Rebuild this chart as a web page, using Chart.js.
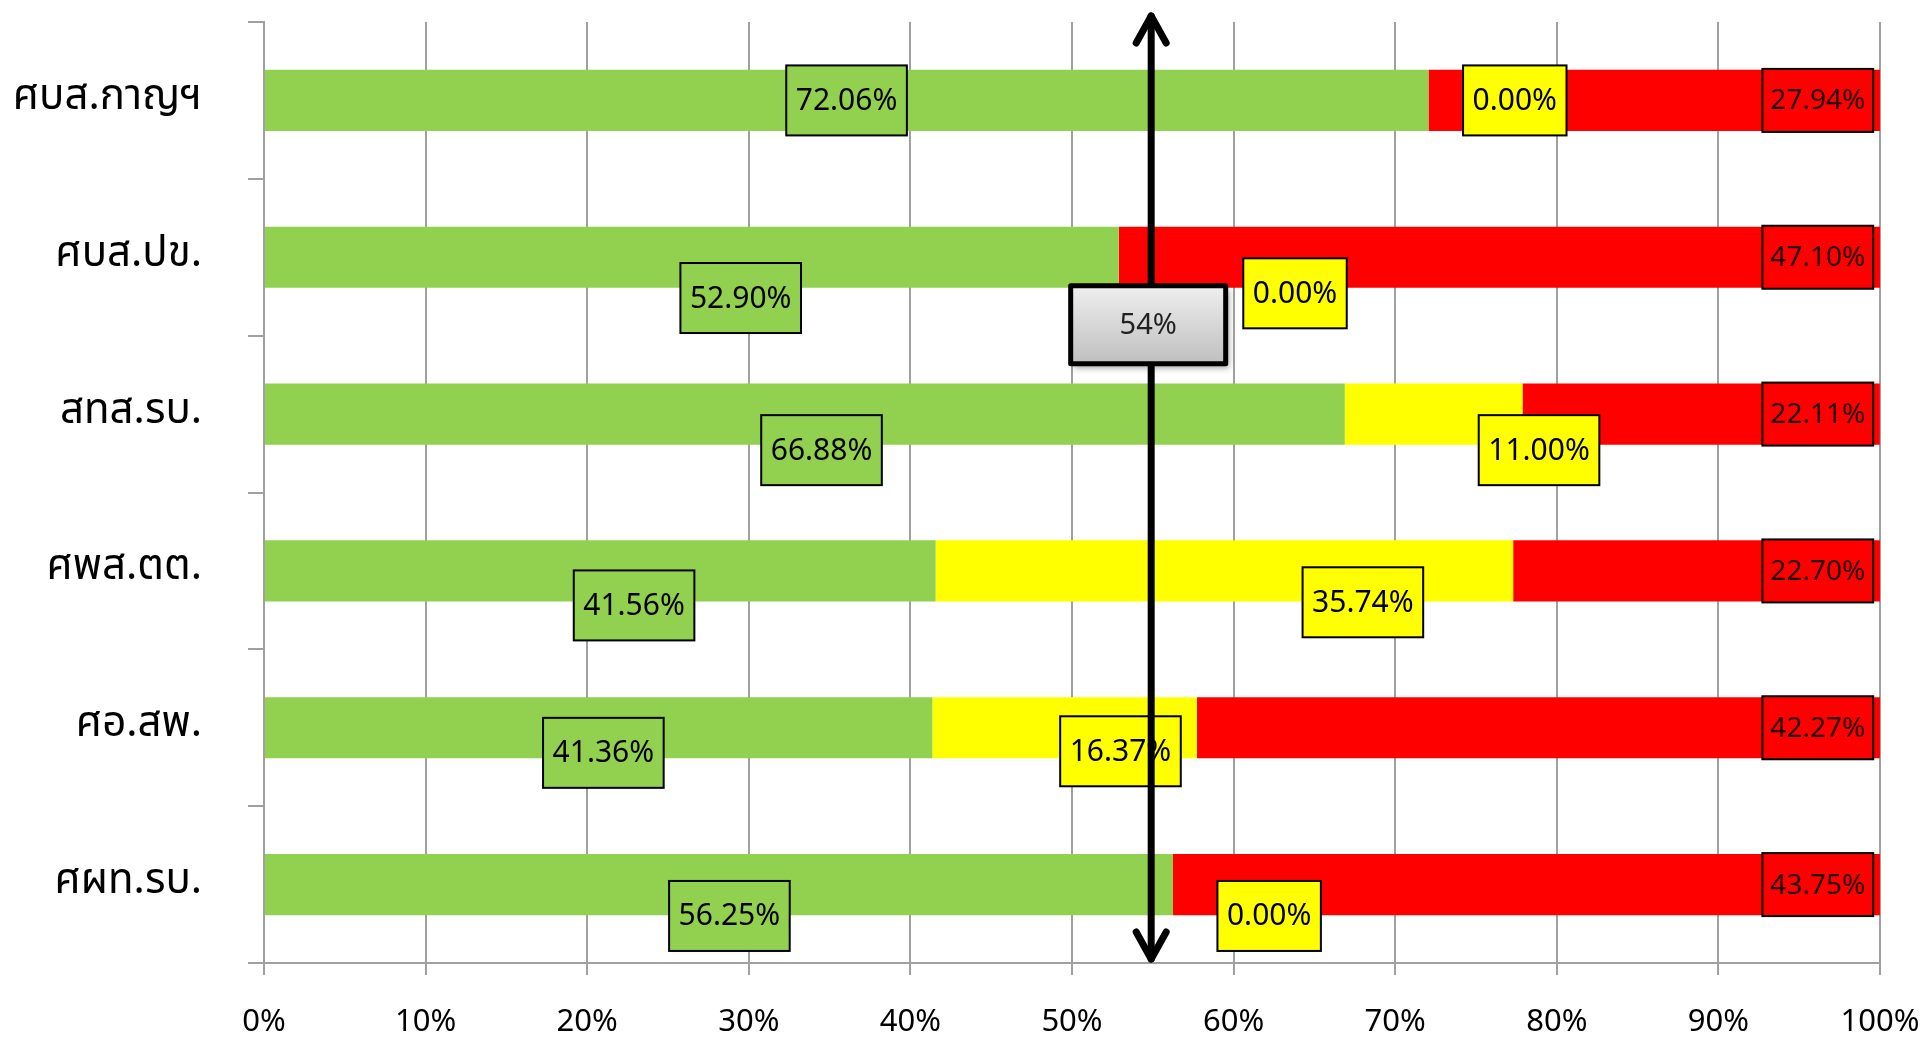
<!DOCTYPE html>
<html>
<head>
<meta charset="utf-8">
<script src="https://cdn.jsdelivr.net/npm/chart.js@4/dist/chart.umd.min.js"></script>
<style>
  html, body { margin: 0; padding: 0; background: #fff; }
</style>
</head>
<body>
<canvas id="myChart" width="1924" height="1040"></canvas>
<script>
// data
const categories = ['ศบส.กาญฯ', 'ศบส.ปข.', 'สทส.รบ.', 'ศพส.ตต.', 'ศอ.สพ.', 'ศผท.รบ.'];
const greenValues = [72.06, 52.90, 66.88, 41.56, 41.36, 56.25];
const yellowValues = [0.00, 0.00, 11.00, 35.74, 16.37, 0.00];
const redValues = [27.94, 47.10, 22.11, 22.70, 42.27, 43.75];
const xTickValues = [0, 10, 20, 30, 40, 50, 60, 70, 80, 90, 100];
const targetValue = 54.9;
const targetLabel = '54%';

// where each value box sits (x in %, y as a fraction of a category step)
const greenLabelX = [36.05, 29.5, 34.5, 22.9, 21.0, 28.8];
const greenLabelDy = [0, 0.26, 0.23, 0.22, 0.16, 0.2];
const yellowLabelX = [77.4, 63.8, 78.9, 68.0, 53.0, 62.2];
const yellowLabelDy = [0, 0.23, 0.23, 0.2, 0.15, 0.2];
const redLabelX = [96.15, 96.15, 96.15, 96.15, 96.15, 96.15];
const redLabelDy = [0, 0, 0, 0, 0, 0];

const numFont = '"Noto Sans", sans-serif';
const gray = '#a0a0a0';

const boxLabels = {
  id: 'boxLabels',
  afterDraw(chart) {
    const { ctx, scales: { x, y }, chartArea } = chart;
    const step = y.getPixelForValue(1) - y.getPixelForValue(0);

    chart.data.datasets.forEach((ds) => {
      ds.data.forEach((v, j) => {
        const cx = x.getPixelForValue(ds.labelX[j]);
        const cy = y.getPixelForValue(j) + ds.labelDy[j] * step;
        const txt = v.toFixed(2) + '%';
        ctx.save();
        ctx.font = ds.labelFont;
        const w = ctx.measureText(txt).width + ds.boxPad;
        const h = ds.boxH;
        ctx.fillStyle = ds.backgroundColor;
        ctx.fillRect(cx - w / 2, cy - h / 2, w, h);
        ctx.lineWidth = 2;
        ctx.strokeStyle = '#000';
        ctx.strokeRect(cx - w / 2, cy - h / 2, w, h);
        ctx.fillStyle = ds.labelColor;
        ctx.textAlign = 'center';
        ctx.textBaseline = 'middle';
        ctx.fillText(txt, cx, cy + 1);
        ctx.restore();
      });
    });

    // double headed arrow at the target
    const ax = x.getPixelForValue(targetValue);
    const top = chartArea.top - 10;
    const bot = chartArea.bottom;
    ctx.save();
    ctx.strokeStyle = '#000';
    ctx.lineWidth = 7;
    ctx.lineCap = 'round';
    ctx.lineJoin = 'round';
    ctx.beginPath();
    ctx.moveTo(ax, top + 4);
    ctx.lineTo(ax, bot - 4);
    ctx.stroke();
    ctx.beginPath();
    ctx.moveTo(ax - 15, top + 31);
    ctx.lineTo(ax, top + 4);
    ctx.lineTo(ax + 15, top + 31);
    ctx.moveTo(ax - 15, bot - 31);
    ctx.lineTo(ax, bot - 4);
    ctx.lineTo(ax + 15, bot - 31);
    ctx.stroke();
    ctx.restore();

    // target box
    const bw = 155, bh = 78;
    const bx = ax - 3 - bw / 2;
    const by = y.getPixelForValue(1.43) - bh / 2;
    ctx.save();
    ctx.shadowColor = 'rgba(0,0,0,0.35)';
    ctx.shadowBlur = 6;
    ctx.shadowOffsetX = 3;
    ctx.shadowOffsetY = 4;
    const g = ctx.createLinearGradient(0, by, 0, by + bh);
    g.addColorStop(0, '#efefef');
    g.addColorStop(1, '#bfbfbf');
    ctx.fillStyle = g;
    ctx.fillRect(bx, by, bw, bh);
    ctx.shadowColor = 'transparent';
    ctx.lineWidth = 5;
    ctx.strokeStyle = '#000';
    ctx.lineJoin = 'round';
    ctx.strokeRect(bx, by, bw, bh);
    ctx.fillStyle = '#222';
    ctx.font = '29px ' + numFont;
    ctx.textAlign = 'center';
    ctx.textBaseline = 'middle';
    ctx.fillText(targetLabel, bx + bw / 2, by + bh / 2 + 1);
    ctx.restore();
  }
};

const ctx = document.getElementById('myChart').getContext('2d');

const myChart = new Chart(ctx, {
  type: 'bar',
  data: {
    labels: categories,
    datasets: [
      {
        label: 'green',
        data: greenValues,
        backgroundColor: '#92D050',
        labelX: greenLabelX, labelDy: greenLabelDy,
        labelFont: '30px ' + numFont, labelColor: '#000', boxH: 70, boxPad: 19
      },
      {
        label: 'yellow',
        data: yellowValues,
        backgroundColor: '#FFFF00',
        labelX: yellowLabelX, labelDy: yellowLabelDy,
        labelFont: '30px ' + numFont, labelColor: '#000', boxH: 70, boxPad: 19
      },
      {
        label: 'red',
        data: redValues,
        backgroundColor: '#FF0000',
        labelX: redLabelX, labelDy: redLabelDy,
        labelFont: '28px ' + numFont, labelColor: '#200000', boxH: 63, boxPad: 16
      }
    ]
  },
  options: {
    indexAxis: 'y',
    responsive: false,
    animation: false,
    devicePixelRatio: 1,
    layout: { padding: { top: 22, right: 44, left: 0, bottom: 0 } },
    datasets: { bar: { categoryPercentage: 1, barPercentage: 0.39 } },
    plugins: { legend: { display: false }, tooltip: { enabled: false } },
    scales: {
      x: {
        stacked: true,
        min: 0,
        max: 100,
        afterBuildTicks: (s) => { s.ticks = xTickValues.map(v => ({ value: v })); },
        afterFit: (s) => { s.height = 77; s.paddingLeft = 0; s.paddingRight = 0; },
        ticks: {
          callback: (v) => v + '%',
          color: '#000',
          padding: 29,
          maxRotation: 0,
          font: { family: numFont, size: 31 }
        },
        grid: { color: gray, lineWidth: 2, tickLength: 12 },
        border: { display: true, color: gray, width: 2 }
      },
      y: {
        stacked: true,
        afterFit: (s) => { s.width = 264; s.paddingTop = 0; s.paddingBottom = 0; },
        ticks: {
          color: '#000',
          padding: 46,
          font: { family: '"Noto Sans Thai", "Noto Sans", sans-serif', size: 42 }
        },
        grid: { drawOnChartArea: false, color: gray, lineWidth: 2, tickLength: 16 },
        border: { display: true, color: gray, width: 2 }
      }
    }
  },
  plugins: [boxLabels]
});
</script>
</body>
</html>
